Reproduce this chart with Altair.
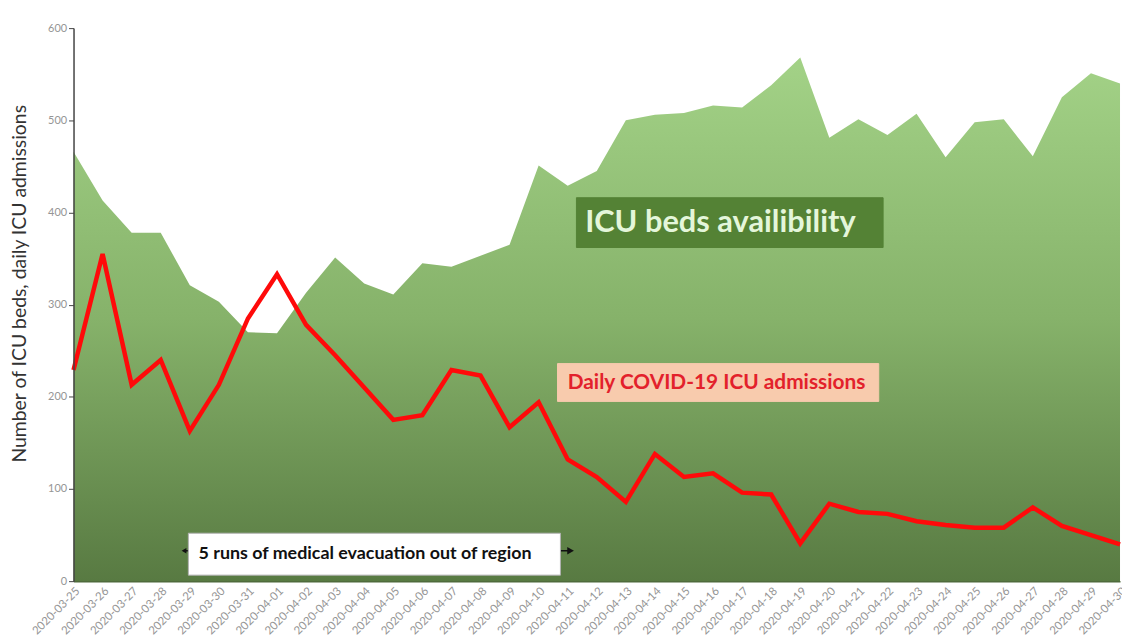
import altair as alt
import pandas as pd

dates = ["2020-03-25","2020-03-26","2020-03-27","2020-03-28","2020-03-29","2020-03-30","2020-03-31",
         "2020-04-01","2020-04-02","2020-04-03","2020-04-04","2020-04-05","2020-04-06","2020-04-07",
         "2020-04-08","2020-04-09","2020-04-10","2020-04-11","2020-04-12","2020-04-13","2020-04-14",
         "2020-04-15","2020-04-16","2020-04-17","2020-04-18","2020-04-19","2020-04-20","2020-04-21",
         "2020-04-22","2020-04-23","2020-04-24","2020-04-25","2020-04-26","2020-04-27","2020-04-28",
         "2020-04-29","2020-04-30"]
beds = [466, 413, 378, 378, 321, 303, 270, 269, 313, 351, 323, 311, 345, 341, 353, 365, 451, 429,
        445, 500, 506, 508, 516, 514, 538, 568, 481, 501, 484, 507, 460, 498, 501, 461, 525, 551, 540]
admissions = [229, 355, 213, 240, 163, 213, 285, 333, 278, 245, 210, 175, 180, 229, 223, 167, 194,
              132, 113, 86, 138, 113, 117, 96, 94, 41, 84, 75, 73, 65, 61, 58, 58, 80, 60, 50, 40]

df = pd.DataFrame({"day": list(range(len(dates))), "date": dates, "beds": beds, "adm": admissions})

label_expr = "[" + ",".join("'" + d + "'" for d in dates) + "][datum.value]"

FONT = "Lato"

x_scale = alt.Scale(domain=[0, len(dates) - 1], nice=False, zero=False)
y_scale = alt.Scale(domain=[0, 600], nice=False)

x_axis = alt.Axis(values=list(range(len(dates))), labelExpr=label_expr, labelAngle=-45,
                  labelAlign="right", labelBaseline="top", labelFontSize=11.5,
                  labelColor="#959595", labelFont=FONT, ticks=False, grid=False,
                  domainColor="#4f6b3c", domainWidth=1.5, title=None, labelPadding=4,
                  zindex=1, labelOverlap=False, labelBound=False)
y_axis = alt.Axis(values=[0, 100, 200, 300, 400, 500, 600], grid=False,
                  title="Number of ICU beds, daily ICU admissions", titleFont=FONT,
                  titleFontSize=19.5, titleFontWeight="normal", titleColor="#333333",
                  titleX=-54, titleY=257, titleAlign="center", titleBaseline="middle",
                  labelFontSize=11, labelColor="#959595", labelFont=FONT,
                  tickColor="#444444", tickSize=5, domainColor="#444444",
                  domainWidth=1.5, zindex=1)

def X(f):
    return alt.X(f, scale=x_scale, axis=x_axis)

def Y(f):
    return alt.Y(f, scale=y_scale, axis=y_axis)

area = alt.Chart(df).mark_area(
    color=alt.Gradient(gradient="linear", x1=0, x2=0, y1=0, y2=1,
                       stops=[alt.GradientStop(offset=0, color="#a3d287"),
                              alt.GradientStop(offset=0.5, color="#86b26a"),
                              alt.GradientStop(offset=1, color="#587a42")])
).encode(x=X("day:Q"), y=Y("beds:Q"))

line = alt.Chart(df).mark_line(color="#ff0a0a", strokeWidth=4.5, strokeJoin="miter").encode(
    x=X("day:Q"), y=Y("adm:Q"))

# annotations (data coordinates)
ann = pd.DataFrame({
    "x0": [17.3, 16.65, 3.95],
    "x1": [27.85, 27.7, 16.75],
    "y0": [362, 195, 6.5],
    "y1": [416, 236, 52],
    "tx": [17.6, 17.0, 4.3],
    "ty": [389, 215, 29],
    "txt": ["ICU beds availibility", "Daily COVID-19 ICU admissions",
            "5 runs of medical evacuation out of region"],
    "fill": ["#548235", "#f8cbad", "#ffffff"],
    "tcol": ["#e4f6da", "#e3212b", "#111111"],
    "size": [31, 21, 18],
    "stroke": ["#548235", "#f8cbad", "#b0b0b0"],
})

boxes = alt.Chart(ann).mark_rect(strokeWidth=1).encode(
    x=X("x0:Q"), x2="x1", y=Y("y0:Q"), y2="y1",
    fill=alt.Fill("fill:N", scale=None), stroke=alt.Stroke("stroke:N", scale=None))

texts = alt.Chart(ann).mark_text(align="left", baseline="middle", font=FONT, fontWeight="bold").encode(
    x=X("tx:Q"), y=Y("ty:Q"), text="txt:N",
    color=alt.Color("tcol:N", scale=None), size=alt.Size("size:Q", scale=None))

arrow_df = pd.DataFrame({"a": [3.8], "b": [17.1], "y": [33]})
arrow = alt.Chart(arrow_df).mark_rule(color="#111111", strokeWidth=1.5).encode(
    x=X("a:Q"), x2="b", y=Y("y:Q"))
heads = pd.DataFrame({"x": [3.8, 17.1], "y": [33, 33], "shape": ["triangle-left", "triangle-right"],
                      "sz": [30, 60]})
arrow_heads = alt.Chart(heads).mark_point(filled=True, color="#111111", opacity=1).encode(
    x=X("x:Q"), y=Y("y:Q"), shape=alt.Shape("shape:N", scale=None),
    size=alt.Size("sz:Q", scale=None))

chart = alt.layer(area, boxes.transform_filter("datum.y0 > 100"),
                  texts.transform_filter("datum.ty > 100"), line,
                  arrow, arrow_heads,
                  boxes.transform_filter("datum.y0 < 100"),
                  texts.transform_filter("datum.ty < 100")).properties(
    width=1054, height=557, autosize="none",
    padding={"left": 66, "top": 18, "right": 2, "bottom": 55},
    background="white"
).configure_view(strokeWidth=0).configure_axis(labelOverlap=False)

chart.save("out.html", embed_options={"renderer": "svg", "actions": False})
